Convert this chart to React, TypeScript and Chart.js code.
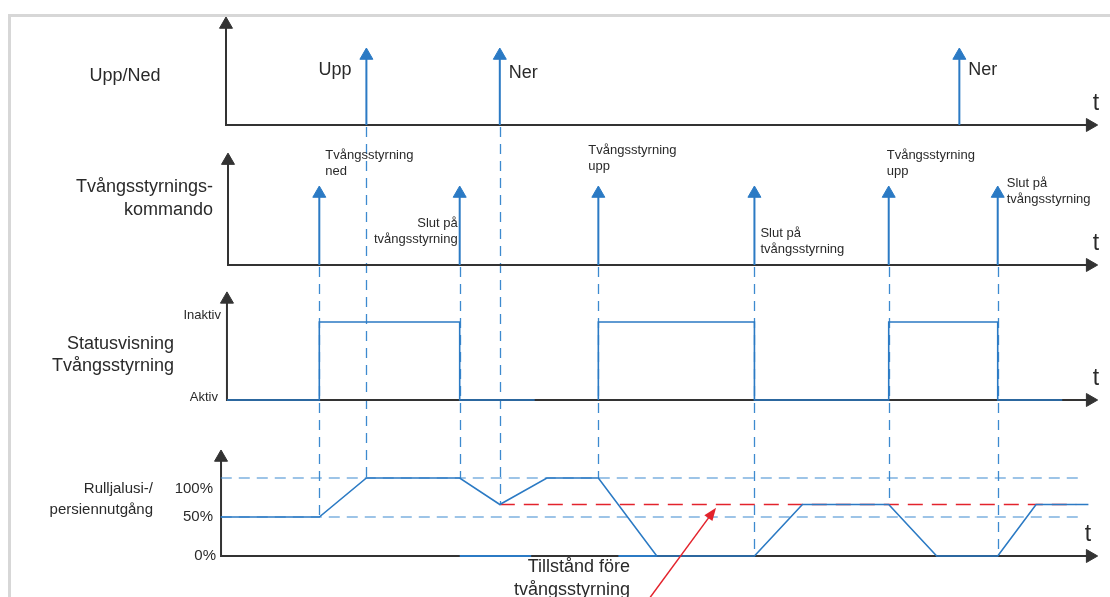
import React, { useEffect, useRef } from "react";
import { Chart, registerables } from "chart.js";
Chart.register(...registerables);

const W = 1110;
const H = 597;

// ---------------- data (time in arbitrary units, 0..100 along each time axis) ----------------
const upNedTimes = [16.1, 31.4, 84.1];
const upNedLabels = ["Upp", "Ner", "Ner"];

const cmdTimes = [10.7, 26.8, 42.7, 60.6, 76.0, 88.5];
const cmdLabels = [
  ["Tvångsstyrning", "ned"],
  ["Slut på", "tvångsstyrning"],
  ["Tvångsstyrning", "upp"],
  ["Slut på", "tvångsstyrning"],
  ["Tvångsstyrning", "upp"],
  ["Slut på", "tvångsstyrning"],
];

const statusTimes = [0.1, 10.7, 10.7, 26.8, 26.8, 35.4, 39, 42.7, 42.7, 60.6, 60.6, 76.0, 76.0, 88.5, 88.5, 95.9];
const statusValues = [0, 0, 1, 1, 0, 0, null, 0, 1, 1, 0, 0, 1, 1, 0, 0];
const statusTickValues = [0, 1];
const statusTickLabels = ["Aktiv", "Inaktiv"];

const posTimes = [-0.6, 10.7, 16.1, 26.8, 31.4, 36.8, 42.7, 49.4, 60.6, 66.1, 76.0, 81.5, 88.5, 92.9, 98.9];
const posValues = [50, 50, 100, 100, 66, 100, 100, 0, 0, 66, 66, 0, 0, 66, 66];
const posTickValues = [0, 50, 100];
const posTickLabels = ["0%", "50%", "100%"];
const guideLevels = [100, 50];
const guideSpan = [-0.6, 97.8];
const prevStateLevel = 66;
const prevStateSpan = [31.4, 97.5];
const baseMarkStarts = [26.8, 45.0];
const baseMarkEnds = [35.0, 49.4];

const connectorTimes = [10.7, 16.1, 26.8, 31.4, 42.7, 60.6, 76.0, 88.5];
const connectorFrom = ["yCmd", "yUN", "yCmd", "yUN", "yCmd", "yCmd", "yCmd", "yCmd"];
const connectorTo = [50, 100, 100, 66, 100, 0, 66, 0];

const rowTitles = [["Upp/Ned"], ["Tvångsstyrnings-", "kommando"], ["Statusvisning", "Tvångsstyrning"], ["Rulljalusi-/", "persiennutgång"]];
const noteLabel = ["Tillstånd före", "tvångsstyrning"];
const notePointT = 56.2;
const notePointV = 62;

// ---------------- layout / style ----------------
const BLUE = "#2b7ac4";
const DASH_BLUE = "#3d8acf";
const AXIS = "#333333";
const TEXT = "#2a2a2a";
const RED = "#e3232c";
const FONT = '"Liberation Sans", Arial, sans-serif';
const HEAD = 7.5;
const X_END = 99.1;

function xRange(t0: number, p0: number, t1: number, p1: number) {
  const k = (p1 - p0) / (t1 - t0);
  return { min: t0 - p0 / k, max: t0 + (W - p0) / k };
}
function yRange(v0: number, p0: number, v1: number, p1: number) {
  const k = (p0 - p1) / (v1 - v0);
  const min = v0 - (H - p0) / k;
  return { min, max: min + H / k };
}

const xr = xRange(0, 226, 100, 1098);
const yUN = yRange(0, 125, 1, 55.5);
const yCmd = yRange(0, 265, 1, 193.5);
const yStat = yRange(0, 400, 1, 322);
const yPct = yRange(0, 556, 100, 478);

const panels = [
  { id: "yUN", x0: 0, top: 1.446 },
  { id: "yCmd", x0: 0.23, top: 1.46 },
  { id: "yStat", x0: 0.11, top: 1.29 },
  { id: "yPct", x0: -0.57, top: 126.3 },
];

function axisDataset(p: { id: string; x0: number; top: number }) {
  return {
    data: [
      { x: p.x0, y: p.top },
      { x: p.x0, y: 0 },
      { x: X_END, y: 0 },
    ],
    yAxisID: p.id,
    borderColor: AXIS,
    borderWidth: 2,
    pointStyle: "triangle",
    pointRadius: [HEAD, 0, HEAD],
    pointRotation: [0, 0, 90],
    pointBackgroundColor: AXIS,
    pointBorderColor: AXIS,
    pointBorderWidth: 1,
    order: 10,
    clip: false,
  };
}

function spikeDataset(times: number[], axisId: string) {
  const data: any[] = [];
  const radius: number[] = [];
  times.forEach((t) => {
    data.push({ x: t, y: 0 }, { x: t, y: 1 }, { x: t, y: null });
    radius.push(0, HEAD, 0);
  });
  return {
    data,
    yAxisID: axisId,
    borderColor: BLUE,
    borderWidth: 2,
    pointStyle: "triangle",
    pointRadius: radius,
    pointBackgroundColor: BLUE,
    pointBorderColor: BLUE,
    pointBorderWidth: 1,
    spanGaps: false,
    order: 1,
    clip: false,
  };
}

function seriesDataset(ts: number[], vs: (number | null)[], axisId: string, extra: any = {}) {
  return {
    data: ts.map((t, i) => ({ x: t, y: vs[i] })),
    yAxisID: axisId,
    borderColor: BLUE,
    borderWidth: 1.6,
    pointRadius: 0,
    spanGaps: false,
    order: 1,
    clip: false,
    ...extra,
  };
}

function text(ctx: CanvasRenderingContext2D, s: string, x: number, y: number, size: number, align: CanvasTextAlign, color = TEXT) {
  ctx.font = `${size}px ${FONT}`;
  ctx.textAlign = align;
  ctx.textBaseline = "middle";
  ctx.fillStyle = color;
  ctx.fillText(s, x, y);
}

const overlay = {
  id: "overlay",
  beforeDatasetsDraw(chart: any) {
    const { ctx, scales } = chart;
    const x = scales.x;
    ctx.save();
    ctx.strokeStyle = DASH_BLUE;
    ctx.lineWidth = 1.3;
    ctx.setLineDash([10, 7]);
    connectorTimes.forEach((t, i) => {
      const px = Math.round(x.getPixelForValue(t)) + 0.5;
      const y0 = scales[connectorFrom[i]].getPixelForValue(0) + 2;
      const y1 = scales.yPct.getPixelForValue(connectorTo[i]);
      ctx.beginPath();
      ctx.moveTo(px, y0);
      ctx.lineTo(px, y1);
      ctx.stroke();
    });
    ctx.restore();
  },
  afterDatasetsDraw(chart: any) {
    const { ctx, scales } = chart;
    const x = scales.x;
    ctx.save();
    // row titles
    text(ctx, rowTitles[0][0], 125, 76, 18, "center");
    text(ctx, rowTitles[1][0], 213, 187, 18, "right");
    text(ctx, rowTitles[1][1], 213, 210, 18, "right");
    text(ctx, rowTitles[2][0], 174, 344, 18, "right");
    text(ctx, rowTitles[2][1], 174, 366, 18, "right");
    text(ctx, rowTitles[3][0], 153, 489, 15, "right");
    text(ctx, rowTitles[3][1], 153, 510, 15, "right");

    // tick labels
    const pctRight = [216, 213, 213];
    const pctDy = [0, 0, 11];
    posTickValues.forEach((v, i) => {
      text(ctx, posTickLabels[i], pctRight[i], scales.yPct.getPixelForValue(v) + pctDy[i], 15, "right");
    });
    const statRight = [218, 221];
    const statDy = [-3, -7];
    statusTickValues.forEach((v, i) => {
      text(ctx, statusTickLabels[i], statRight[i], scales.yStat.getPixelForValue(v) + statDy[i], 13, "right");
    });

    // t labels
    ["yUN", "yCmd", "yStat", "yPct"].forEach((id, i) => {
      text(ctx, "t", i === 3 ? 1088 : 1096, scales[id].getPixelForValue(0) - 21, 23, "center");
    });

    // Upp / Ner labels
    const unDx = [-48, 9, 9];
    const unY = [70, 73, 70];
    upNedTimes.forEach((t, i) => {
      text(ctx, upNedLabels[i], x.getPixelForValue(t) + unDx[i], unY[i], 18, "left");
    });

    // command labels
    const cmdDx = [6, -2, -10, 6, -2, 9];
    const cmdAlign: CanvasTextAlign[] = ["left", "right", "left", "left", "left", "left"];
    const cmdY = [155, 223, 150, 233, 155, 183];
    cmdTimes.forEach((t, i) => {
      const px = x.getPixelForValue(t) + cmdDx[i];
      text(ctx, cmdLabels[i][0], px, cmdY[i], 13, cmdAlign[i]);
      text(ctx, cmdLabels[i][1], px, cmdY[i] + 16, 13, cmdAlign[i]);
    });

    // note with red arrow
    text(ctx, noteLabel[0], 630, 567, 18, "right");
    text(ctx, noteLabel[1], 630, 590, 18, "right");
    const tx = x.getPixelForValue(notePointT);
    const ty = scales.yPct.getPixelForValue(notePointV);
    const sx = tx - 72;
    const sy = ty + 98;
    const ang = Math.atan2(ty - sy, tx - sx);
    ctx.strokeStyle = RED;
    ctx.fillStyle = RED;
    ctx.lineWidth = 1.5;
    ctx.setLineDash([]);
    ctx.beginPath();
    ctx.moveTo(sx, sy);
    ctx.lineTo(tx - Math.cos(ang) * 8, ty - Math.sin(ang) * 8);
    ctx.stroke();
    const hl = 13;
    const hw = 5;
    ctx.beginPath();
    ctx.moveTo(tx, ty);
    ctx.lineTo(tx - Math.cos(ang) * hl + Math.sin(ang) * hw, ty - Math.sin(ang) * hl - Math.cos(ang) * hw);
    ctx.lineTo(tx - Math.cos(ang) * hl - Math.sin(ang) * hw, ty - Math.sin(ang) * hl + Math.cos(ang) * hw);
    ctx.closePath();
    ctx.fill();
    ctx.restore();
  },
};

function hiddenY(r: { min: number; max: number }) {
  return { type: "linear", display: false, min: r.min, max: r.max, bounds: "data", grid: { display: false }, ticks: { display: false } };
}

export default function App() {
  const ref = useRef<HTMLCanvasElement | null>(null);
  useEffect(() => {
    if (!ref.current) return;
    const datasets: any[] = [];
    panels.forEach((p) => datasets.push(axisDataset(p)));
    guideLevels.forEach((lv) =>
      datasets.push(
        seriesDataset(guideSpan, [lv, lv], "yPct", { borderColor: DASH_BLUE, borderWidth: 1.1, borderDash: [11, 7], order: 5 })
      )
    );
    datasets.push(
      seriesDataset(prevStateSpan, [prevStateLevel, prevStateLevel], "yPct", { borderColor: RED, borderWidth: 1.3, borderDash: [15, 9], order: 4 })
    );
    datasets.push(spikeDataset(upNedTimes, "yUN"));
    datasets.push(spikeDataset(cmdTimes, "yCmd"));
    datasets.push(seriesDataset(statusTimes, statusValues, "yStat"));
    const bt: number[] = [];
    const bv: (number | null)[] = [];
    baseMarkStarts.forEach((s, i) => {
      bt.push(s, baseMarkEnds[i], baseMarkEnds[i]);
      bv.push(0, 0, null);
    });
    datasets.push(seriesDataset(bt, bv, "yPct", { borderWidth: 2 }));
    datasets.push(seriesDataset(posTimes, posValues, "yPct"));

    const chart = new Chart(ref.current, {
      type: "line",
      data: { datasets },
      options: {
        animation: false,
        responsive: false,
        maintainAspectRatio: false,
        devicePixelRatio: 1,
        events: [],
        layout: { autoPadding: false, padding: 0 },
        plugins: { legend: { display: false }, tooltip: { enabled: false }, title: { display: false } },
        scales: {
          x: { type: "linear", display: false, min: xr.min, max: xr.max, bounds: "data", grid: { display: false } },
          yUN: hiddenY(yUN),
          yCmd: hiddenY(yCmd),
          yStat: hiddenY(yStat),
          yPct: hiddenY(yPct),
        } as any,
      } as any,
      plugins: [overlay as any],
    });
    return () => chart.destroy();
  }, []);

  return (
    <div style={{ position: "absolute", left: 0, top: 0, width: W, height: H, overflow: "hidden", background: "#fff" }}>
      <div
        style={{
          position: "absolute",
          left: 8,
          top: 14,
          width: 1300,
          height: 800,
          borderTop: "3px solid #d7d7d7",
          borderLeft: "3px solid #d7d7d7",
        }}
      />
      <canvas ref={ref} width={W} height={H} style={{ position: "absolute", left: 0, top: 0, width: W, height: H }} />
    </div>
  );
}
